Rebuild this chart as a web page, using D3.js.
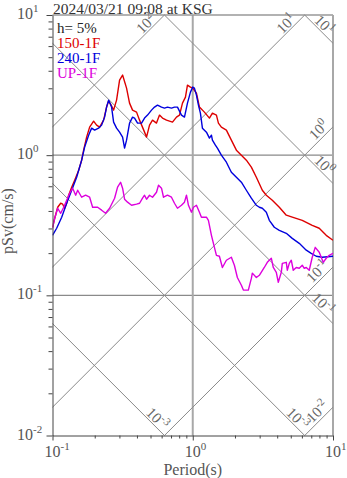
<!DOCTYPE html>
<html><head><meta charset="utf-8">
<script src="https://cdn.jsdelivr.net/npm/d3@7"></script>
<style>body{margin:0;background:#fff}svg{display:block}</style>
</head><body>
<svg id="c" width="347" height="478"></svg>
<script>
const title = "2024/03/21 09:08 at KSG";
const dampingLabel = "h= 5%";
const seriesNames = ["150-1F", "240-1F", "UP-1F"];
const seriesColors = ["#dd0000", "#0000dd", "#dd00dd"];
const xTickExps = [-1, 0, 1];
const yTickExps = [-2, -1, 0, 1];
const accLevels = [100, 10, 1, 0.1, 0.01];      // constant pSa lines (gal)
const dispLevels = [10, 1, 0.1, 0.01, 0.001];   // constant Sd lines (cm)
const dispLabelExps = [1, 0, -1, -3, -3];       // labels as printed on the reference

const s150 = [[0.1,0.306],[0.1037,0.355],[0.1089,0.425],[0.1144,0.454],[0.1182,0.447],[0.1221,0.418],[0.1262,0.454],[0.1304,0.518],[0.137,0.591],[0.1439,0.663],[0.1537,0.781],[0.1614,0.921],[0.1667,1.086],[0.1751,1.345],[0.184,1.585],[0.1964,1.749],[0.2063,1.638],[0.2168,1.585],[0.2314,1.778],[0.243,2.203],[0.2512,2.431],[0.2596,2.313],[0.2727,2.096],[0.2863,2.471],[0.3008,3.434],[0.316,3.728],[0.3373,3.01],[0.3543,2.352],[0.3722,2.096],[0.3975,2.028],[0.4176,1.778],[0.4532,1.46],[0.4683,1.345],[0.4918,1.638],[0.5166,1.778],[0.5515,1.693],[0.5794,1.931],[0.6086,1.838],[0.6499,1.778],[0.6825,1.749],[0.717,1.721],[0.7656,1.868],[0.8044,1.931],[0.8449,2.352],[0.8871,2.596],[0.9168,3.162],[0.963,3.06],[1.0,3.01],[1.0625,2.773],[1.116,2.203],[1.211,2.028],[1.315,1.838],[1.381,1.995],[1.475,1.931],[1.524,1.693],[1.6,1.585],[1.737,1.508],[1.885,1.28],[2.047,1.086],[2.222,1.0],[2.411,0.921],[2.617,0.821],[2.841,0.696],[3.134,0.562],[3.346,0.518],[3.692,0.477],[4.141,0.425],[4.645,0.373],[5.124,0.361],[6.037,0.343],[7.112,0.316],[7.976,0.301],[8.945,0.268],[10,0.247]];

const s240 = [[0.1,0.268],[0.1071,0.301],[0.1163,0.361],[0.1262,0.454],[0.137,0.562],[0.1487,0.696],[0.1614,0.921],[0.1695,1.141],[0.181,1.389],[0.1901,1.559],[0.1997,1.508],[0.2132,1.559],[0.224,1.638],[0.2352,1.868],[0.243,2.203],[0.2512,2.471],[0.2638,2.203],[0.2727,1.721],[0.2863,1.559],[0.3008,1.46],[0.316,1.345],[0.3265,1.122],[0.3373,1.28],[0.3543,1.693],[0.3722,1.868],[0.3847,1.838],[0.4041,1.693],[0.4315,1.693],[0.4532,1.838],[0.4761,1.931],[0.5082,2.096],[0.5338,2.203],[0.5607,2.276],[0.5987,2.203],[0.6289,2.166],[0.6605,2.203],[0.7053,2.166],[0.7409,2.203],[0.7782,2.203],[0.831,1.931],[0.8728,1.868],[0.9168,2.352],[0.963,2.818],[1.0,3.06],[1.028,3.01],[1.0625,2.683],[1.098,2.276],[1.134,1.995],[1.172,1.559],[1.252,1.46],[1.315,1.323],[1.359,1.389],[1.381,1.28],[1.45,1.179],[1.499,1.122],[1.6,1.0],[1.737,0.891],[1.885,0.756],[2.047,0.696],[2.222,0.641],[2.411,0.562],[2.617,0.493],[2.841,0.439],[2.984,0.425],[3.134,0.418],[3.346,0.392],[3.515,0.343],[3.815,0.306],[4.141,0.291],[4.645,0.277],[5.124,0.255],[5.745,0.235],[6.447,0.21],[6.996,0.1995],[7.593,0.19],[8.379,0.187],[10,0.19]];

const sUP = [[0.1,0.301],[0.1037,0.355],[0.1089,0.418],[0.1144,0.385],[0.1202,0.425],[0.1262,0.477],[0.1325,0.535],[0.1392,0.581],[0.1463,0.518],[0.1512,0.562],[0.1614,0.501],[0.1723,0.518],[0.184,0.501],[0.1932,0.425],[0.2098,0.425],[0.224,0.405],[0.2391,0.385],[0.2554,0.418],[0.2772,0.493],[0.2911,0.591],[0.3058,0.641],[0.316,0.581],[0.3265,0.485],[0.3428,0.462],[0.3662,0.439],[0.3975,0.447],[0.4176,0.454],[0.4385,0.493],[0.4532,0.518],[0.4683,0.485],[0.4918,0.518],[0.5166,0.501],[0.5515,0.544],[0.57,0.611],[0.5987,0.581],[0.6188,0.501],[0.6605,0.518],[0.7053,0.501],[0.7409,0.454],[0.7782,0.418],[0.831,0.439],[0.8728,0.462],[0.902,0.518],[0.9319,0.439],[0.9789,0.392],[1.012,0.425],[1.0625,0.439],[1.116,0.392],[1.153,0.361],[1.252,0.361],[1.293,0.343],[1.359,0.268],[1.427,0.22],[1.475,0.193],[1.549,0.19],[1.627,0.158],[1.737,0.178],[1.885,0.187],[1.981,0.164],[2.08,0.134],[2.222,0.118],[2.296,0.109],[2.491,0.109],[2.617,0.132],[2.66,0.144],[2.841,0.134],[2.984,0.139],[3.237,0.158],[3.401,0.172],[3.632,0.184],[3.753,0.158],[3.942,0.146],[4.074,0.124],[4.279,0.146],[4.35,0.169],[4.645,0.172],[4.721,0.151],[4.879,0.169],[5.041,0.178],[5.209,0.151],[5.471,0.158],[5.745,0.156],[6.037,0.164],[6.237,0.156],[6.447,0.158],[6.77,0.151],[7.112,0.187],[7.469,0.22],[7.976,0.203],[8.517,0.172],[8.945,0.184],[9.397,0.193],[10,0.1995]];

const seriesData = [s150, s240, sUP];

const svg = d3.select("#c");
const FONT = "'Liberation Serif','Times New Roman',serif";
const L = 52.5, R = 333, T = 15, B = 435.5;
const x = d3.scaleLog().domain([0.1, 10]).range([L, R]);
const y = d3.scaleLog().domain([0.01, 10]).range([B, T]);
const TWO_PI = 2 * Math.PI;

svg.append("defs").append("clipPath").attr("id", "clip")
  .append("rect").attr("x", L).attr("y", T).attr("width", R - L).attr("height", B - T);

const grid = svg.append("g");
grid.selectAll("line.h").data([1, 0.1]).join("line")
  .attr("x1", L).attr("x2", R).attr("y1", d => y(d)).attr("y2", d => y(d))
  .attr("stroke", "#8a8a8a").attr("stroke-width", 1.3);
grid.append("line").attr("x1", x(1)).attr("x2", x(1)).attr("y1", T).attr("y2", B)
  .attr("stroke", "#a8a8a8").attr("stroke-width", 2);
grid.append("line").attr("x1", L).attr("x2", R).attr("y1", T).attr("y2", T)
  .attr("stroke", "#999").attr("stroke-width", 1.5);
grid.append("line").attr("x1", R).attr("x2", R).attr("y1", T).attr("y2", B)
  .attr("stroke", "#a8a8a8").attr("stroke-width", 2);

function accSeg(A, i) {
  const t0 = Math.max(0.1, TWO_PI * 0.01 / A), t1 = Math.min(10, TWO_PI * 10 / A);
  return {pts: [[t0, A * t0 / TWO_PI], [t1, A * t1 / TWO_PI]], top: t1 < 10 - 1e-9,
          exp: Math.round(Math.log10(A)), asc: true};
}
function dispSeg(D, i) {
  const t0 = Math.max(0.1, TWO_PI * D / 10), t1 = Math.min(10, TWO_PI * D / 0.01);
  return {pts: [[t0, TWO_PI * D / t0], [t1, TWO_PI * D / t1]], bottom: t1 < 10 - 1e-9,
          exp: dispLabelExps[i], asc: false};
}
const segs = accLevels.map(accSeg).concat(dispLevels.map(dispSeg));
const diag = svg.append("g");
diag.selectAll("line").data(segs).join("line")
  .attr("x1", d => x(d.pts[0][0])).attr("y1", d => y(d.pts[0][1]))
  .attr("x2", d => x(d.pts[1][0])).attr("y2", d => y(d.pts[1][1]))
  .attr("stroke", "#8a8a8a").attr("stroke-width", 1);

function supText(sel, base, exp, sfs, dy) {
  sel.append("tspan").text(base);
  sel.append("tspan").attr("dy", dy).attr("font-size", sfs).text(exp);
}

segs.forEach(s => {
  const ex = x(s.pts[1][0]), ey = y(s.pts[1][1]);
  let ang, along, perp;
  if (s.asc) { ang = -45; if (s.top) { along = -9; perp = -2; } else { along = -2; perp = -3; } }
  else { ang = 45; if (s.bottom) { along = -5; perp = -2; } else { along = -9; perp = -2; } }
  const t = diag.append("text")
    .attr("transform", `translate(${ex},${ey}) rotate(${ang}) translate(${along},${perp})`)
    .attr("text-anchor", "end").attr("font-family", FONT).attr("font-size", 15)
    .attr("fill", "#666");
  supText(t, "10", String(s.exp), 11, -6);
});

const line = d3.line().x(d => x(d[0])).y(d => y(d[1]));
svg.append("g").attr("clip-path", "url(#clip)").selectAll("path").data(seriesData).join("path")
  .attr("d", line).attr("fill", "none")
  .attr("stroke", (d, i) => seriesColors[i]).attr("stroke-width", 1.4)
  .attr("stroke-linejoin", "round");

const minorVals = [];
[0.01, 0.1, 1].forEach(dec => { for (let k = 2; k <= 9; k++) minorVals.push(dec * k); });
const minorX = [];
[0.1, 1].forEach(dec => { for (let k = 2; k <= 9; k++) minorX.push(dec * k); });
const majY = yTickExps.map(e => Math.pow(10, e));
const majX = xTickExps.map(e => Math.pow(10, e));

const ax = svg.append("g").attr("color", "#444");
ax.append("g").attr("transform", `translate(${L},0)`)
  .call(d3.axisLeft(y).tickValues(minorVals).tickSize(4).tickFormat(""))
  .call(g => g.select(".domain").remove());
ax.append("g").attr("transform", `translate(${L},0)`)
  .call(d3.axisLeft(y).tickValues(majY).tickSize(6).tickSizeOuter(0).tickFormat(""));
ax.append("g").attr("transform", `translate(0,${B})`)
  .call(d3.axisBottom(x).tickValues(minorX).tickSize(3).tickFormat(""))
  .call(g => g.select(".domain").remove());
ax.append("g").attr("transform", `translate(0,${B})`)
  .call(d3.axisBottom(x).tickValues(majX).tickSize(5).tickSizeOuter(0).tickFormat(""));
ax.selectAll("line, path").attr("stroke-width", 1);

yTickExps.forEach(e => {
  const t = svg.append("text").attr("x", 17).attr("y", y(Math.pow(10, e)) + 4)
    .attr("font-family", FONT).attr("font-size", 16).attr("fill", "#555");
  supText(t, "10", String(e), 11, -7);
});
xTickExps.forEach(e => {
  const t = svg.append("text").attr("x", x(Math.pow(10, e)) - 8).attr("y", 457)
    .attr("font-family", FONT).attr("font-size", 16).attr("fill", "#555");
  supText(t, "10", String(e), 11, -7);
});

svg.append("text").attr("x", x(1)).attr("y", 475).attr("text-anchor", "middle")
  .attr("font-family", FONT).attr("font-size", 16).attr("fill", "#555").text("Period(s)");
svg.append("text").attr("transform", "translate(13,221) rotate(-90)").attr("text-anchor", "middle")
  .attr("font-family", FONT).attr("font-size", 16).attr("fill", "#555").text("pSv(cm/s)");

svg.append("text").attr("x", 53).attr("y", 13.5)
  .attr("font-family", FONT).attr("font-size", 15.5).attr("fill", "#333").text(title);

const leg = svg.append("g").attr("font-family", FONT).attr("font-size", 15);
leg.append("text").attr("x", 57).attr("y", 33).attr("fill", "#222").text(dampingLabel);
seriesNames.forEach((n, i) => {
  leg.append("text").attr("x", 57).attr("y", 48 + i * 15).attr("fill", seriesColors[i]).text(n);
});
</script>
</body></html>
